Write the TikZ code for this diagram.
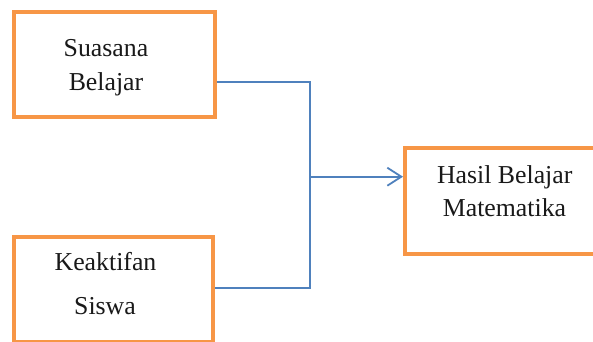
\documentclass[tikz,border=0pt]{standalone}
\usepackage{fontspec}
\setmainfont{Liberation Serif}
\usetikzlibrary{arrows.meta}
\definecolor{boxorange}{HTML}{F79646}
\definecolor{linkblue}{HTML}{4F81BD}
\begin{document}
\begin{tikzpicture}[x=1pt,y=-1pt,
  box/.style={draw=boxorange,line width=4pt,rectangle,inner sep=0pt,fill=white},
  txt/.style={anchor=base,inner sep=0pt,font=\fontsize{25.8pt}{30pt}\selectfont,text=black!90},
  link/.style={draw=linkblue,line width=1.8pt}]
\useasboundingbox (0,0) rectangle (593,341);
\clip (0,0) rectangle (593,341);
\fill[white] (0,0) rectangle (593,341);
\node[box,minimum width=200.5pt,minimum height=105pt] (top) at (114.25,64) {};
\node[box,minimum width=199pt,minimum height=105pt] (bot) at (113.5,289.2) {};
\node[box,minimum width=197pt,minimum height=106.5pt] (res) at (503.5,200.75) {};
\node[txt] (t1) at (106,56.7) {Suasana};
\node[txt] (t2) at (106,90.7) {Belajar};
\node[txt] (b1) at (105.5,270) {Keaktifan};
\node[txt] (b2) at (105,314.3) {Siswa};
\node[txt] (r1) at (504.7,183.3) {Hasil Belajar};
\node[txt] (r2) at (504.5,216) {Matematika};
\coordinate (jn) at (310,176.7);
\draw[link] ([yshift=-17.7pt]top.east) -| (jn);
\draw[link] ([yshift=1.2pt]bot.east) -| (jn);
\draw[link,-{Straight Barb[length=14pt,width=18pt,line width=1.8pt]}] (jn) -- (res.west |- jn);
\end{tikzpicture}
\end{document}
